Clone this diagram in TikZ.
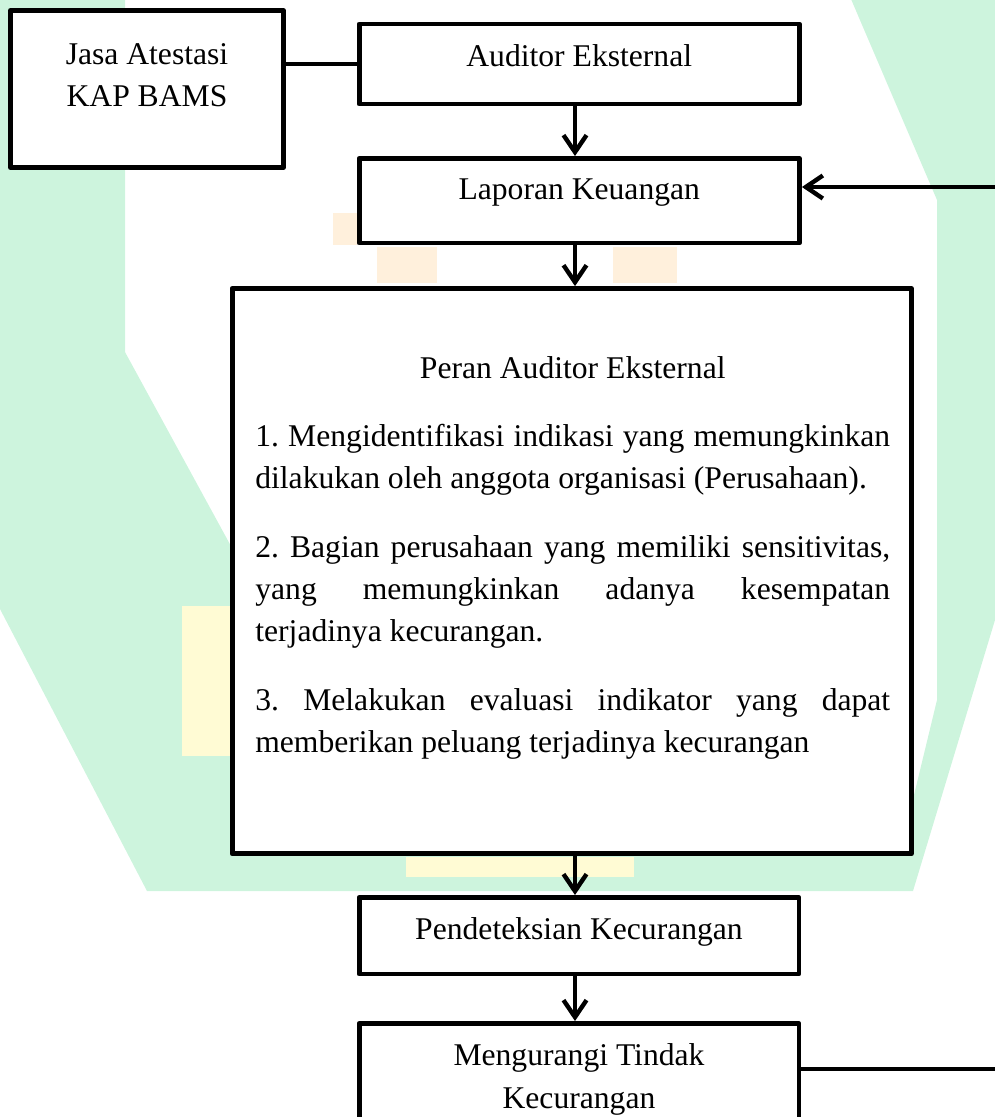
\documentclass[tikz,border=0pt]{standalone}
\usepackage{fontspec}
\setmainfont{Liberation Serif}
\usetikzlibrary{arrows.meta}
\definecolor{wmgreen}{RGB}{205,244,221}
\definecolor{wmyellow}{RGB}{255,251,212}
\definecolor{wmpeach}{RGB}{255,240,220}
\begin{document}
\frenchspacing
\begin{tikzpicture}[line cap=round,line join=round,>={Straight Barb[length=0.34cm,width=0.46cm]},x=0.02cm,y=-0.02cm,
	box/.style={draw=black,line width=2.8pt,fill=white,inner sep=0pt},
	txt/.style={anchor=north,inner sep=0pt,align=center,font=\fontsize{18}{24.1}\selectfont,execute at begin node=\strut},
	body/.style={anchor=north west,inner sep=0pt,align=justify,text width=12.7cm,font=\fontsize{18}{24.1}\selectfont},
	conn/.style={line width=2.5pt}]
		\useasboundingbox (0,0) rectangle (995,1117);
		\clip (0,0) rectangle (995,1117);
		\fill[wmgreen,even odd rule] (0,-50) -- (1100,-50) -- (1100,330) -- (995,620) -- (913,891) -- (147,891) -- (0,609) -- cycle
			(125,-50) -- (830,-50) -- (937,200) -- (937,700) -- (900,853) -- (232,853) -- (232,548) -- (125,352) -- cycle;
		\fill[wmyellow] (182,606) rectangle (232,756);
		\fill[wmyellow] (406,857) rectangle (634,877);
		\fill[wmpeach] (377,247) rectangle (437,283);
		\fill[wmpeach] (613,247) rectangle (677,283);
		\fill[wmpeach] (333,213) rectangle (357,245);
		\node[box,minimum width=5.46cm,minimum height=3.14cm] (jasa) at (147,89) {};
		\node[box,minimum width=8.81cm,minimum height=1.6cm] (audit) at (579.25,64) {};
		\node[box,minimum width=8.81cm,minimum height=1.69cm] (lapor) at (579.25,200.75) {};
		\node[box,minimum width=13.59cm,minimum height=11.31cm] (peran) at (571.75,571.25) {};
		\node[box,minimum width=8.8cm,minimum height=1.53cm] (deteksi) at (579,935.75) {};
		\node[box,minimum width=8.8cm,minimum height=2.13cm] (kurang) at (579,1076.75) {};
		\node[txt] (jasaT) at (147,43) {Jasa Atestasi\\KAP BAMS};
		\node[txt] (auditT) at (579.25,36.5) {Auditor Eksternal};
		\node[txt] (laporT) at (579.25,170) {Laporan Keuangan};
		\node[txt] (deteksiT) at (579,909) {Pendeteksian Kecurangan};
		\node[txt] (kurangT) at (579,1043.5) {Mengurangi Tindak\\Kecurangan};
		\node[body] (peranT) at (255,348.2) {\setlength{\parindent}{0pt}\setlength{\parskip}{14.8pt}\hyphenpenalty=10000
			{\centering\strut Peran Auditor Eksternal\par}
			1. Mengidentifikasi indikasi yang memungkinkan\linebreak dilakukan oleh anggota organisasi (Perusahaan).\par
			2. Bagian perusahaan yang memiliki sensitivitas,\linebreak yang memungkinkan adanya kesempatan\linebreak terjadinya kecurangan.\par
			3. Melakukan evaluasi indikator yang dapat\linebreak memberikan peluang terjadinya kecurangan\par};
		\coordinate (axis) at (575,0);
		\coordinate (loopB) at (1040,1069);
		\coordinate (loopT) at (1040,187);
		\draw[conn] (audit.west) -- (audit.west -| jasa.east);
		\draw[conn,->] (audit.south -| axis) -- (lapor.north -| axis);
		\draw[conn,->] (lapor.south -| axis) -- (peran.north -| axis);
		\draw[conn,->] (peran.south -| axis) -- (deteksi.north -| axis);
		\draw[conn,->] (deteksi.south -| axis) -- (kurang.north -| axis);
		\draw[conn,->] (kurang.east |- loopB) -- (loopB) -- (loopT) -- (lapor.east |- loopT);
	\end{tikzpicture}
\end{document}
